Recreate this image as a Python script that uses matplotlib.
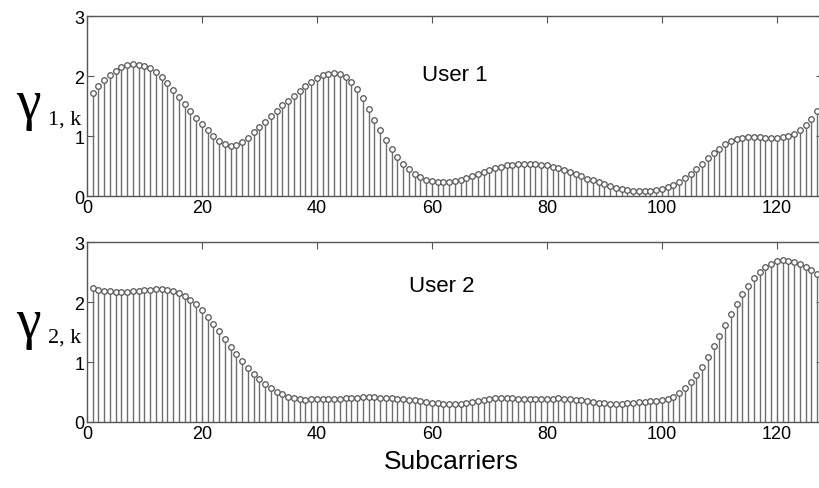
import matplotlib
matplotlib.use('Agg')
import matplotlib.pyplot as plt
import numpy as np

plt.rcParams['font.family'] = ['Liberation Sans', 'DejaVu Sans']

# subcarrier index
k = np.arange(1, 129)

# channel gain of user 1
user1 = [1.72, 1.83, 1.93, 2.02, 2.09, 2.15, 2.19, 2.20, 2.19, 2.17,
         2.13, 2.07, 1.98, 1.88, 1.76, 1.65, 1.53, 1.42, 1.30, 1.20,
         1.10, 1.00, 0.92, 0.86, 0.84, 0.85, 0.90, 0.97, 1.06, 1.15,
         1.24, 1.33, 1.42, 1.51, 1.59, 1.67, 1.75, 1.83, 1.90, 1.96,
         2.01, 2.04, 2.05, 2.03, 1.98, 1.90, 1.78, 1.63, 1.45, 1.27,
         1.10, 0.93, 0.78, 0.65, 0.54, 0.45, 0.37, 0.31, 0.27, 0.25,
         0.24, 0.24, 0.24, 0.25, 0.27, 0.30, 0.33, 0.37, 0.40, 0.44,
         0.47, 0.49, 0.51, 0.52, 0.53, 0.53, 0.53, 0.53, 0.52, 0.51,
         0.49, 0.46, 0.43, 0.40, 0.36, 0.33, 0.29, 0.26, 0.23, 0.20,
         0.17, 0.14, 0.12, 0.10, 0.09, 0.08, 0.08, 0.09, 0.10, 0.12,
         0.15, 0.19, 0.24, 0.30, 0.37, 0.45, 0.54, 0.63, 0.71, 0.79,
         0.86, 0.91, 0.95, 0.97, 0.98, 0.98, 0.98, 0.97, 0.97, 0.97,
         0.98, 1.00, 1.04, 1.10, 1.18, 1.29, 1.42, 1.57]

# channel gain of user 2
user2 = [2.24, 2.20, 2.19, 2.18, 2.17, 2.17, 2.17, 2.18, 2.19, 2.20,
         2.20, 2.21, 2.21, 2.20, 2.18, 2.15, 2.10, 2.04, 1.96, 1.86,
         1.75, 1.63, 1.51, 1.38, 1.25, 1.13, 1.01, 0.90, 0.80, 0.71,
         0.63, 0.56, 0.50, 0.46, 0.42, 0.40, 0.38, 0.37, 0.38, 0.38,
         0.38, 0.38, 0.39, 0.39, 0.40, 0.40, 0.40, 0.41, 0.41, 0.41,
         0.40, 0.40, 0.40, 0.39, 0.38, 0.37, 0.36, 0.35, 0.33, 0.32,
         0.31, 0.30, 0.30, 0.30, 0.30, 0.31, 0.33, 0.35, 0.37, 0.39,
         0.40, 0.40, 0.40, 0.40, 0.39, 0.39, 0.38, 0.38, 0.38, 0.39,
         0.39, 0.40, 0.39, 0.38, 0.37, 0.36, 0.35, 0.33, 0.32, 0.31,
         0.30, 0.30, 0.30, 0.31, 0.32, 0.33, 0.34, 0.35, 0.35, 0.36,
         0.38, 0.42, 0.48, 0.56, 0.66, 0.78, 0.92, 1.08, 1.26, 1.44,
         1.62, 1.80, 1.97, 2.13, 2.27, 2.40, 2.50, 2.58, 2.64, 2.68,
         2.70, 2.69, 2.67, 2.64, 2.59, 2.53, 2.46, 2.32]

series = [user1, user2]
titles = ['User 1', 'User 2']
subs = ['1, k', '2, k']
xticks = [0, 20, 40, 60, 80, 100, 120]
yticks = [0, 1, 2, 3]

fig = plt.figure(figsize=(8.2, 4.89), dpi=100)
ax_pos = [[0.106, 0.597, 0.8976, 0.368],
          [0.106, 0.135, 0.8976, 0.368]]
title_pos = [(0.555, 0.845), (0.539, 0.415)]
gamma_pos = [(0.035, 0.785), (0.035, 0.338)]

stem_col = '#6e6e6e'
for i in range(2):
    ax = fig.add_axes(ax_pos[i])
    ml, sl, bl = ax.stem(k, series[i], basefmt=' ')
    plt.setp(sl, color=stem_col, linewidth=1.0)
    plt.setp(ml, marker='o', markersize=4, markerfacecolor='white',
             markeredgecolor='#555555', markeredgewidth=0.9)
    ax.set_xlim(0, 128)
    ax.set_ylim(0, 3)
    ax.set_xticks(xticks)
    ax.set_yticks(yticks)
    ax.tick_params(direction='in', length=5, width=0.8, color='#555555',
                   labelsize=13, pad=2, top=True, right=True)
    for s in ax.spines.values():
        s.set_color('#555555')
        s.set_linewidth(1.0)
    fig.text(title_pos[i][0], title_pos[i][1], titles[i], fontsize=16,
             ha='center', va='center')
    gx, gy = gamma_pos[i]
    fig.text(gx, gy, 'γ', fontsize=40, family='Liberation Serif',
             ha='center', va='center')
    fig.text(gx + 0.024, gy - 0.03, subs[i], fontsize=16,
             family='Liberation Serif', ha='left', va='center')

fig.text(0.55, 0.055, 'Subcarriers', fontsize=19, ha='center', va='center')

fig.savefig('out.png', dpi=100)
